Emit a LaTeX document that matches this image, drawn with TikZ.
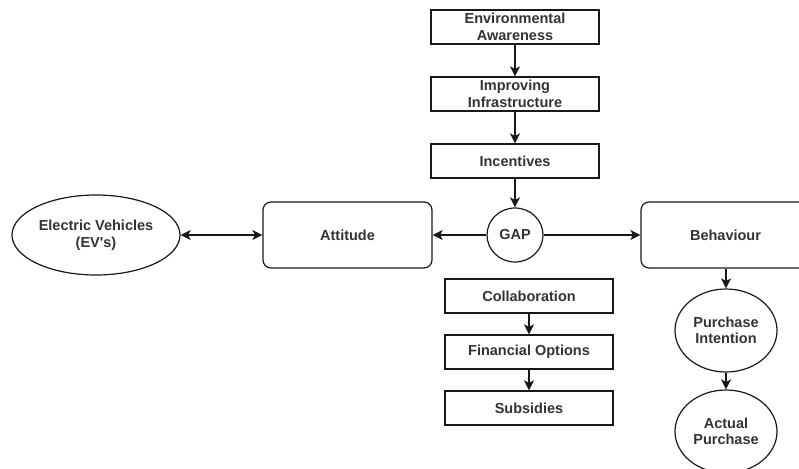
\documentclass[tikz,border=0pt]{standalone}
\usepackage{fontspec}
\setmainfont{Liberation Sans}
\usetikzlibrary{shapes.geometric,arrows.meta}
\tikzset{
  base/.style={draw=black!90, line width=1.2pt, align=center, font=\bfseries\fontsize{14.5}{16.5}\selectfont, text=black!80},
  stepbox/.style={base, rectangle, minimum width=168pt, minimum height=34pt, inner sep=0pt},
  bigbox/.style={base, rectangle, rounded corners=8pt, minimum width=169pt, minimum height=66pt, inner sep=0pt},
  oval/.style={base, ellipse, inner sep=0pt},
  link/.style={line width=1.2pt, draw=black!90, -{Stealth[length=10pt,width=10pt,inset=2.5pt]}},
  twoway/.style={line width=1.2pt, draw=black!90, {Stealth[length=10pt,width=10pt,inset=2.5pt]}-{Stealth[length=10pt,width=10pt,inset=2.5pt]}}
}
\begin{document}
\begin{tikzpicture}[x=1pt, y=-1pt]
\useasboundingbox (0,0) rectangle (799,468);
\clip (0,0) rectangle (799,468);
\fill[white] (0,0) rectangle (799,468);

% upper chain of factors
\node[stepbox] (env) at (515,27) {Environmental\\Awareness};
\node[stepbox] (infra) at (515,94) {Improving\\Infrastructure};
\node[stepbox] (incent) at (515,161) {Incentives};

% central row
\node[oval, minimum width=56pt, minimum height=54pt] (gap) at (515,235) {GAP};
\node[bigbox] (att) at (347.5,235) {Attitude};
\node[bigbox] (beh) at (725.5,235) {Behaviour};
\node[oval, minimum width=168pt, minimum height=80pt] (ev) at (96,235) {Electric Vehicles\\(EV\textquotesingle s)};

% lower chain of measures
\node[stepbox] (collab) at (529,296) {Collaboration};
\node[stepbox] (fin) at (529,352) {Financial Options};
\node[stepbox] (subs) at (529,408) {Subsidies};

% purchase outcomes
\node[oval, minimum width=102pt, minimum height=83pt] (pi) at (726,330.5) {Purchase\\Intention};
\node[oval, minimum width=102pt, minimum height=83pt] (ap) at (726,431.5) {Actual\\Purchase};

% connectors
\draw[link] (env) -- (infra);
\draw[link] (infra) -- (incent);
\draw[link] (incent) -- (gap);
\draw[link] (gap) -- (att);
\draw[link] (gap) -- (beh);
\draw[twoway] (ev) -- (att);
\draw[link] (collab) -- (fin);
\draw[link] (fin) -- (subs);
\draw[link] (beh.south -| pi.north) -- (pi);
\draw[link] (pi) -- (ap);
\end{tikzpicture}
\end{document}
